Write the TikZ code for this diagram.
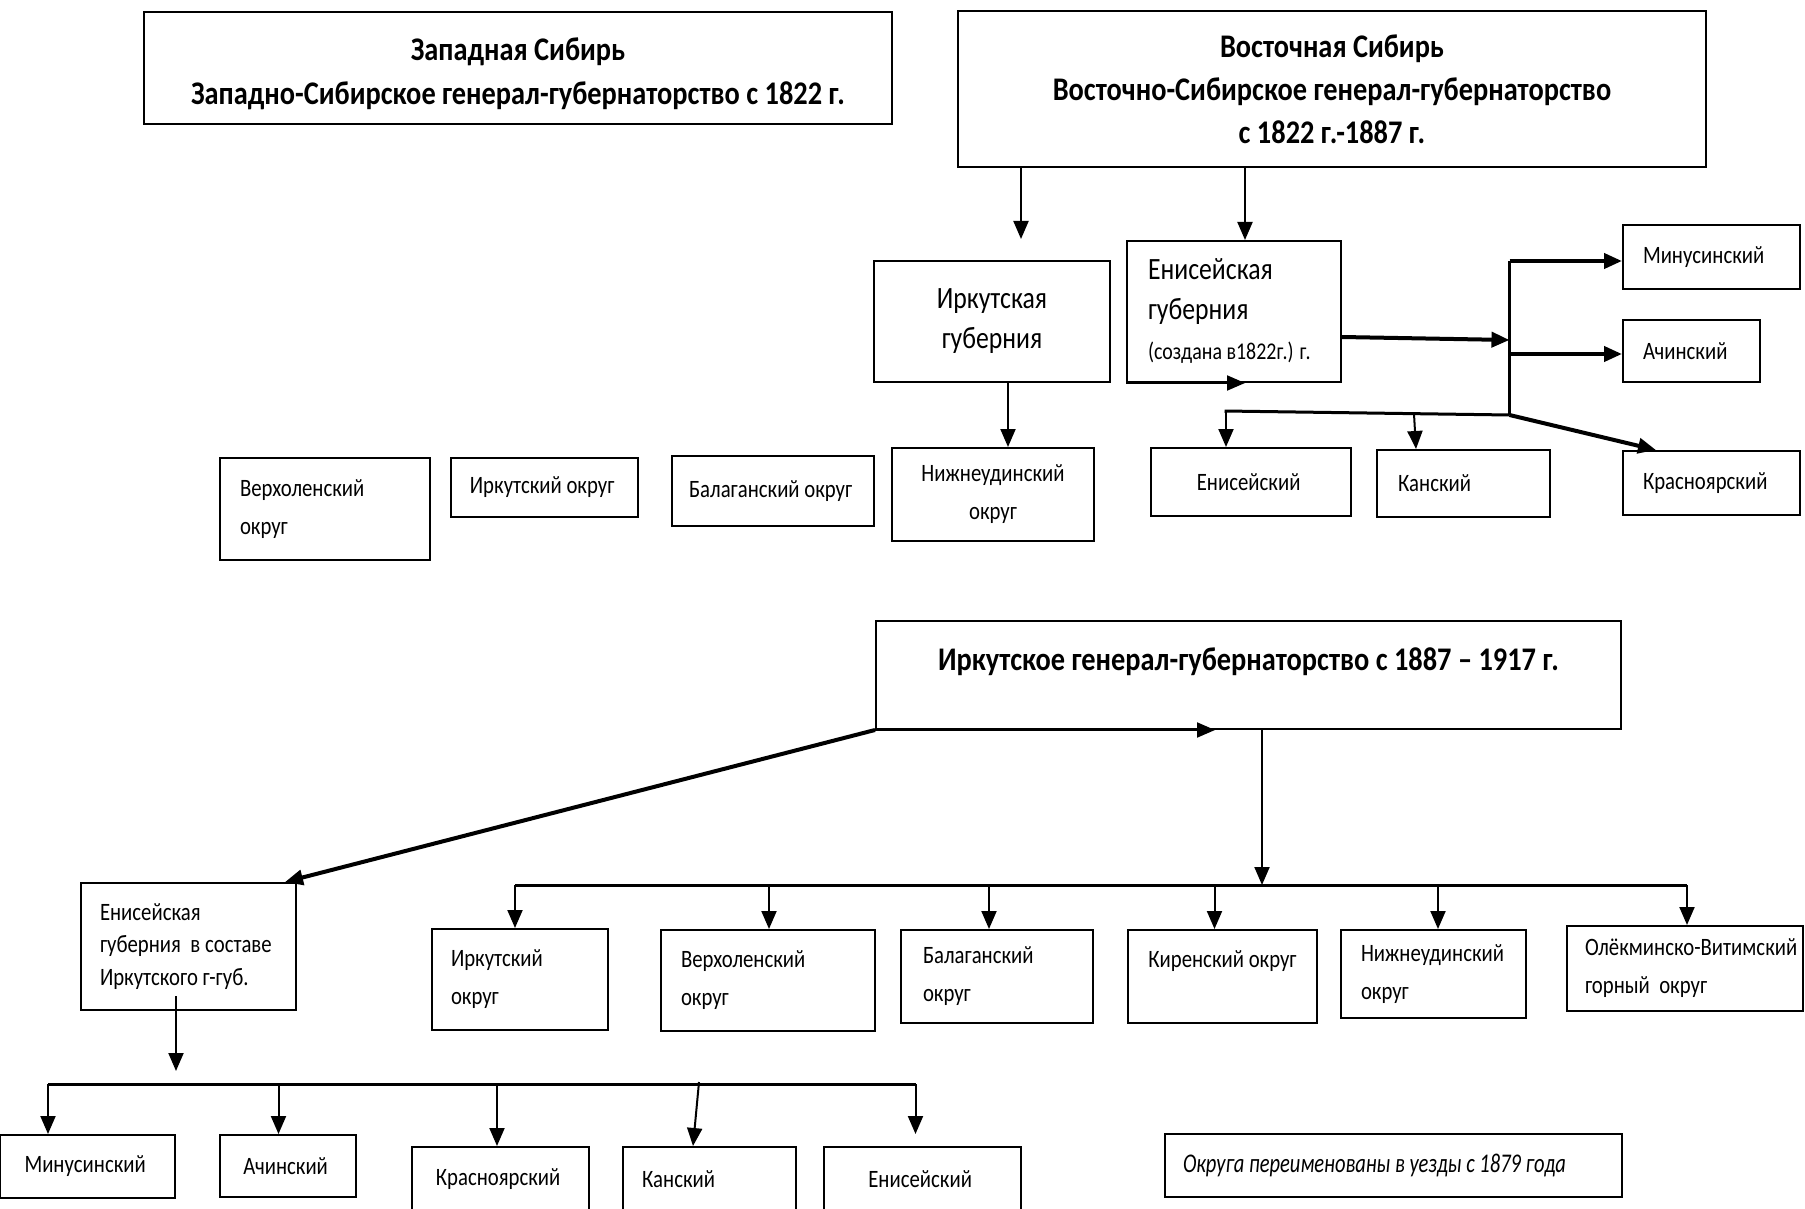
\documentclass[tikz,border=0pt]{standalone}
\usepackage{fontspec}
\setmainfont{Carlito}[FakeStretch=0.83]
\newfontfamily\ttlfamily{Carlito}[FakeStretch=0.86]
\newfontfamily\notefamily{Carlito}[FakeStretch=0.76]
\usetikzlibrary{arrows.meta,calc}

\begin{document}
\begin{tikzpicture}[x=1pt, y=-1pt,
  box/.style={draw, line width=2pt, rectangle, inner ysep=0pt},
  sm/.style={font=\fontsize{25}{38}\selectfont},
  md/.style={font=\fontsize{31}{40}\selectfont},
  ttl/.style={font=\ttlfamily\fontsize{33}{44}\selectfont\bfseries},
  arr/.style={line width=2pt, -{Triangle[length=18pt, width=15pt]}},
  arrb/.style={line width=4pt, -{Triangle[length=18pt, width=15pt]}},
  bus/.style={line width=3pt}
]
  \useasboundingbox (0, 0) rectangle (1805, 1209);

  %% 1822 - 1887
  \node[box, ttl, align=center, minimum width=748pt, minimum height=112pt] (west) at (518, 68){
    \rule{0pt}{35pt}Западная Сибирь\\
    Западно-Сибирское генерал-губернаторство с 1822 г.
  };

  \node[box, ttl, align=center, minimum width=748pt, minimum height=156pt,
        font=\ttlfamily\fontsize{33}{43}\selectfont\bfseries] (east) at (1332, 89){
    Восточная Сибирь\\
    Восточно-Сибирское генерал-губернаторство\\
    с 1822 г.-1887 г.
  };

  \node[box, md, align=center, minimum width=236pt, minimum height=121pt] (irkg) at (992, 321.5){
    Иркутская\\
    губерния
  };

  \node[box, md, align=flush left, text width=172pt, inner xsep=21pt, minimum height=141pt] (eng) at (1234, 311.5){
    Енисейская\\
    губерния\\
    {\fontsize{24}{36}\selectfont (создана в1822г.) г.}
  };

  \node[box, sm, align=flush left, text width=137pt, inner xsep=20pt, minimum height=64pt] (minE) at (1711.5, 257){
    Минусинский
  };

  \node[box, sm, align=flush left, text width=97pt, inner xsep=20pt, minimum height=62pt] (achE) at (1691.5, 351){
    Ачинский
  };

  \node[box, sm, align=flush left, text width=137pt, inner xsep=20pt, minimum height=64pt] (krE) at (1711.5, 483){
    Красноярский
  };

  \node[box, sm, align=center, minimum width=200pt, minimum height=68pt] (enE) at (1251, 482){
    Енисейский
  };

  \node[box, sm, align=flush left, text width=131pt, inner xsep=21pt, minimum height=67pt] (kanE) at (1463.5, 483.5){
    Канский
  };

  \node[box, sm, align=center, minimum width=202pt, minimum height=93pt] (nizhE) at (993, 494.5){
    Нижнеудинский\\
    округ
  };

  \node[box, sm, align=flush left, text width=170pt, inner xsep=20pt, minimum height=102pt] (verE) at (325, 509){
    Верхоленский\\
    округ
  };

  \node[box, sm, align=center, minimum width=187pt, minimum height=59pt] (irkE) at (544.5, 487.5){
    Иркутский округ
  };

  \node[box, sm, align=center, minimum width=202pt, minimum height=70pt] (balE) at (773, 491){
    Балаганский округ
  };

  %% 1887 - 1917
  \node[box, ttl, minimum width=745pt, minimum height=108pt,
        text height=25pt, text depth=35pt] (igg) at (1248.5, 675){
    Иркутское генерал-губернаторство с 1887 – 1917 г.
  };

  \node[box, align=flush left, text width=177pt, inner xsep=19pt, minimum height=127pt,
        font=\fontsize{25}{32.5}\selectfont] (ensost) at (188.5, 946.5){
    Енисейская\\
    губерния~ в составе\\
    Иркутского г-губ.
  };

  \node[box, sm, align=flush left, text width=138pt, inner xsep=19pt, minimum height=101pt] (irkO) at (520, 979.5){
    Иркутский\\
    округ
  };

  \node[box, sm, align=flush left, text width=174pt, inner xsep=20pt, minimum height=101pt] (verO) at (768, 980.5){
    Верхоленский\\
    округ
  };

  \node[box, sm, align=flush left, text width=148pt, inner xsep=22pt, minimum height=93pt] (balO) at (997, 976.5){
    Балаганский\\
    округ
  };

  \node[box, sm, minimum width=189pt, minimum height=93pt,
        text height=18pt, text depth=37pt] (kirO) at (1222.5, 976.5){
    Киренский округ
  };

  \node[box, sm, align=flush left, text width=145pt, inner xsep=20pt, minimum height=88pt] (nizhO) at (1433.5, 974){
    Нижнеудинский\\
    округ
  };

  \node[box, sm, align=flush left, text width=200pt, inner xsep=18pt, minimum height=85pt] (olekO) at (1685, 968.5){
    \mbox{Олёкминско-Витимский}\\
    горный~ округ
  };

  \node[box, sm, align=center, minimum width=175pt, minimum height=63pt] (minB) at (87.5, 1166.5){
    Минусинский
  };

  \node[box, sm, align=center, minimum width=136pt, minimum height=62pt] (achB) at (288, 1166){
    Ачинский
  };

  \node[box, sm, align=center, minimum width=177pt, minimum height=64pt] (krB) at (500.5, 1179){
    Красноярский
  };

  \node[box, sm, align=flush left, text width=135pt, inner xsep=19pt, minimum height=64pt] (kanB) at (709.5, 1179){
    Канский
  };

  \node[box, sm, align=center, minimum width=197pt, minimum height=64pt] (enB) at (922.5, 1179){
    Енисейский
  };

  \node[box, align=flush left, text width=421pt, inner xsep=18pt, minimum height=63pt,
        font=\notefamily\fontsize{27}{33}\selectfont\itshape] (note) at (1393.5, 1165.5){
    Округа переименованы в уезды с 1879 года
  };

  \coordinate (e1) at (1021, 239);
  \coordinate (e2) at (1245, 241);
  \coordinate (b1) at (1509.5, 261);
  \coordinate (b2) at (1509.5, 340);
  \coordinate (b3) at (1509.5, 354);
  \coordinate (b4) at (1509.5, 415);
  \coordinate (b5) at (1224.5, 411);
  \coordinate (t1) at (1226, 411);
  \coordinate (t2) at (1414, 414);

  \draw[arr] (east.south -| e1) -- (e1);
  \draw[arr] (east.south -| e2) -- (eng.north -| e2);
  \draw[arrb] (eng.east |- 0,337) -- (b2);
  \draw[bus] (b1) -- (b4);
  \draw[arrb] (b1) -- (minE.west |- b1);
  \draw[arrb] (b3) -- (achE.west |- b3);
  \draw[arrb] (b4) -- ($(krE.north west)+(34,0)$);
  \draw[bus] (b4) -- (b5);
  \draw[arr] (t1) -- (enE.north -| t1);
  \draw[arr] (t2) -- ($(kanE.north)+(-47.5,0)$);
  \draw[arr] ($(irkg.south)+(16,0)$) -- ($(nizhE.north)+(15,0)$);
  \draw[arr] (eng.south west) -- ($(eng.south)+(11,0)$);

  \coordinate (m0) at (515, 885);
  \coordinate (m1) at (1262, 885);
  \coordinate (m2) at (1687, 885);

  \draw[arrb] (igg.south west) -- ($(ensost.north east)+(-12,0)$);
  \draw[arr] (igg.south west) -- ($(igg.south)+(-33.5,0)$);
  \draw[arr] (igg.south -| m1) -- (m1);
  \draw[bus] (m0) -- (m2);
  \foreach \n/\d in {irkO/-5, verO/1, balO/-8, kirO/-8, nizhO/4.5, olekO/2}
    \draw[arr] ($(\n.north |- m0)+(\d,0)$) -- ($(\n.north)+(\d,0)$);

  \coordinate (n0) at (48, 1084);
  \coordinate (n1) at (176, 1071);
  \coordinate (n5) at (915.5, 1084);

  \draw[arr] ($(ensost.south)+(-12.5,-15)$) -- (n1);
  \draw[bus] (n0) -- (n5);
  \foreach \n/\d in {minB/-39.5, achB/-9.5, krB/-3.5}
    \draw[arr] ($(\n.north |- n0)+(\d,0)$) -- ($(\n.north)+(\d,0)$);
  \draw[arr] ($(kanB.north |- n0)+(-10.5,-2)$) -- ($(kanB.north)+(-16.5,0)$);
  \draw[arr] (n5) -- ($(enB.north)+(-7,-12)$);
\end{tikzpicture}
\end{document}
